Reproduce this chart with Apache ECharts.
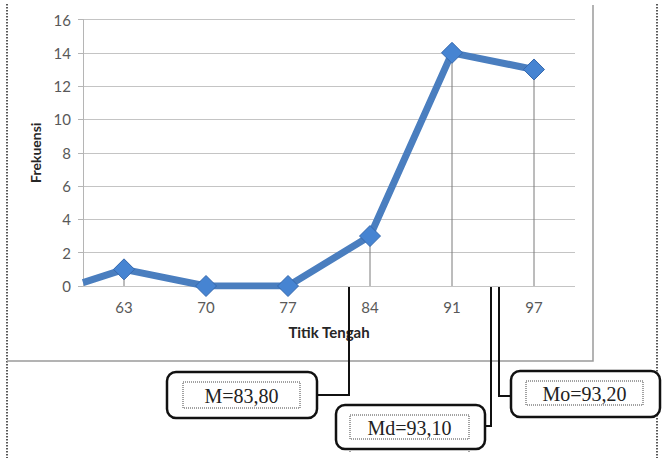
<!DOCTYPE html>
<html>
<head>
<meta charset="utf-8">
<script src="https://cdn.jsdelivr.net/npm/echarts@6/dist/echarts.min.js"></script>
<style>
  html, body { margin: 0; padding: 0; background: #fff; }
  #echarts { width: 669px; height: 458px; }
</style>
</head>
<body>
<div id="echarts"></div>
<script>
// Dados do gráfico (titik tengah x frekuensi)
var kategori = ['63', '70', '77', '84', '91', '97'];
var frekuensi = [1, 0, 0, 3, 14, 13];
// valor da linha no começo do eixo (ponto anterior cortado)
var nilaiAwal = 0.2;
var ticksY = [0, 2, 4, 6, 8, 10, 12, 14, 16];
var anotasi = ['M=83,80', 'Md=93,10', 'Mo=93,20'];

var chart = echarts.init(document.getElementById('echarts'), null, { renderer: 'svg' });

// pontos: índice da categoria x frequência
var dadosLinha = [{ value: [-0.5, nilaiAwal], symbol: 'none' }];
var dadosQueda = [];
frekuensi.forEach(function (v, i) {
    dadosLinha.push([i, v]);
    dadosQueda.push([i, v]);
});

var fonteEixo = 'Lato, "Open Sans", sans-serif';
var serif = '"Liberation Serif", "DejaVu Serif", serif';

// caixa de anotação com borda arredondada e retângulo pontilhado interno
function caixa(x, y, w, h, ix, iy, iw, ih, texto, extra) {
    var els = [
        { type: 'rect', shape: { x: x, y: y, width: w, height: h, r: 9 },
          style: { fill: '#fff', stroke: '#111', lineWidth: 2.5 }, z: 10 },
        { type: 'rect', shape: { x: ix, y: iy, width: iw, height: ih },
          style: { fill: 'none', stroke: '#444', lineWidth: 1, lineDash: [1, 1] }, z: 11 },
        { type: 'text', x: ix + iw / 2, y: iy + ih / 2 + 1,
          style: { text: texto, fill: '#222', font: '20px ' + serif, align: 'center', verticalAlign: 'middle' }, z: 12 }
    ];
    (extra || []).forEach(function (e) { els.push(e); });
    return els;
}

function garis(pts, opts) {
    return { type: 'polyline', shape: { points: pts },
        style: Object.assign({ fill: 'none', stroke: '#111', lineWidth: 2 }, opts || {}), z: 9 };
}

var grafis = [
    // moldura pontilhada da página
    garis([[7, 4], [7, 458]], { stroke: '#222', lineWidth: 1.5, lineDash: [1.5, 1.5] }),
    garis([[657, 4], [657, 458]], { stroke: '#222', lineWidth: 1.5, lineDash: [1.5, 1.5] }),
    // borda do gráfico
    garis([[593, 5], [593, 361], [7, 361]], { stroke: '#9a9a9a', lineWidth: 1.5 }),
    // conectores
    garis([[317, 395], [349, 395], [349, 287]]),
    garis([[485, 426], [491, 426], [491, 287]]),
    garis([[499, 287], [499, 396], [511, 396]])
];
grafis = grafis
    .concat(caixa(167, 372, 150, 46, 183, 382, 117, 26, anotasi[0]))
    .concat(caixa(336, 405, 149, 44, 350, 415, 119, 24, anotasi[1], [
        garis([[350, 439], [350, 452]], { stroke: '#444', lineWidth: 1, lineDash: [1, 1] }),
        garis([[469, 439], [469, 452]], { stroke: '#444', lineWidth: 1, lineDash: [1, 1] })
    ]))
    .concat(caixa(511, 371, 149, 46, 526, 381, 117, 24, anotasi[2], [
        garis([[526, 405], [526, 410]], { stroke: '#444', lineWidth: 1, lineDash: [1, 1] }),
        garis([[643, 405], [643, 410]], { stroke: '#444', lineWidth: 1, lineDash: [1, 1] })
    ]));

var options = {
    backgroundColor: '#fff',
    animation: false,
    grid: { left: 83, right: 94, top: 19.5, bottom: 172 },
    xAxis: {
        type: 'value',
        min: -0.5,
        max: 5.5,
        interval: 1,
        name: 'Titik Tengah',
        nameLocation: 'middle',
        nameGap: 38,
        nameTextStyle: { fontFamily: fonteEixo, fontWeight: 'bold', fontSize: 15, color: '#262626' },
        axisLine: { show: false },
        axisTick: { show: false },
        splitLine: { show: false },
        axisLabel: {
            customValues: [0, 1, 2, 3, 4, 5],
            margin: 13,
            fontFamily: fonteEixo,
            fontSize: 15,
            color: '#595959',
            formatter: function (v) { return kategori[Math.round(v)]; }
        }
    },
    yAxis: {
        type: 'value',
        min: 0,
        max: 16,
        interval: 2,
        name: 'Frekuensi',
        nameLocation: 'middle',
        nameRotate: 90,
        nameGap: 38,
        nameTextStyle: { fontFamily: fonteEixo, fontWeight: 'bold', fontSize: 14, color: '#262626' },
        axisLine: { show: true, onZero: false, lineStyle: { color: '#b5b5b5', width: 1 } },
        axisTick: { show: true, length: 5, lineStyle: { color: '#b5b5b5' } },
        splitLine: { lineStyle: { color: '#c4c4c4', width: 1 } },
        axisLabel: {
            margin: 12,
            fontFamily: fonteEixo,
            fontSize: 15,
            color: '#595959',
            formatter: function (v) { return ticksY.indexOf(v) >= 0 ? String(v) : ''; }
        }
    },
    series: [
        {
            // linhas verticais de cada ponto até o eixo
            name: 'queda',
            type: 'custom',
            silent: true,
            data: dadosQueda,
            renderItem: function (params, api) {
                var atas = api.coord([api.value(0), api.value(1)]);
                var bawah = api.coord([api.value(0), 0]);
                return {
                    type: 'line',
                    shape: { x1: atas[0], y1: atas[1], x2: bawah[0], y2: bawah[1] },
                    style: { stroke: '#7a7a7a', lineWidth: 1 }
                };
            },
            z: 1
        },
        {
            name: 'Frekuensi',
            type: 'line',
            data: dadosLinha,
            symbol: 'diamond',
            symbolSize: 21,
            lineStyle: { color: '#4a7ebf', width: 7 },
            itemStyle: { color: '#4684d2', borderColor: '#3568ad', borderWidth: 1 },
            z: 3
        }
    ],
    graphic: grafis
};

chart.setOption(options);
</script>
</body>
</html>
